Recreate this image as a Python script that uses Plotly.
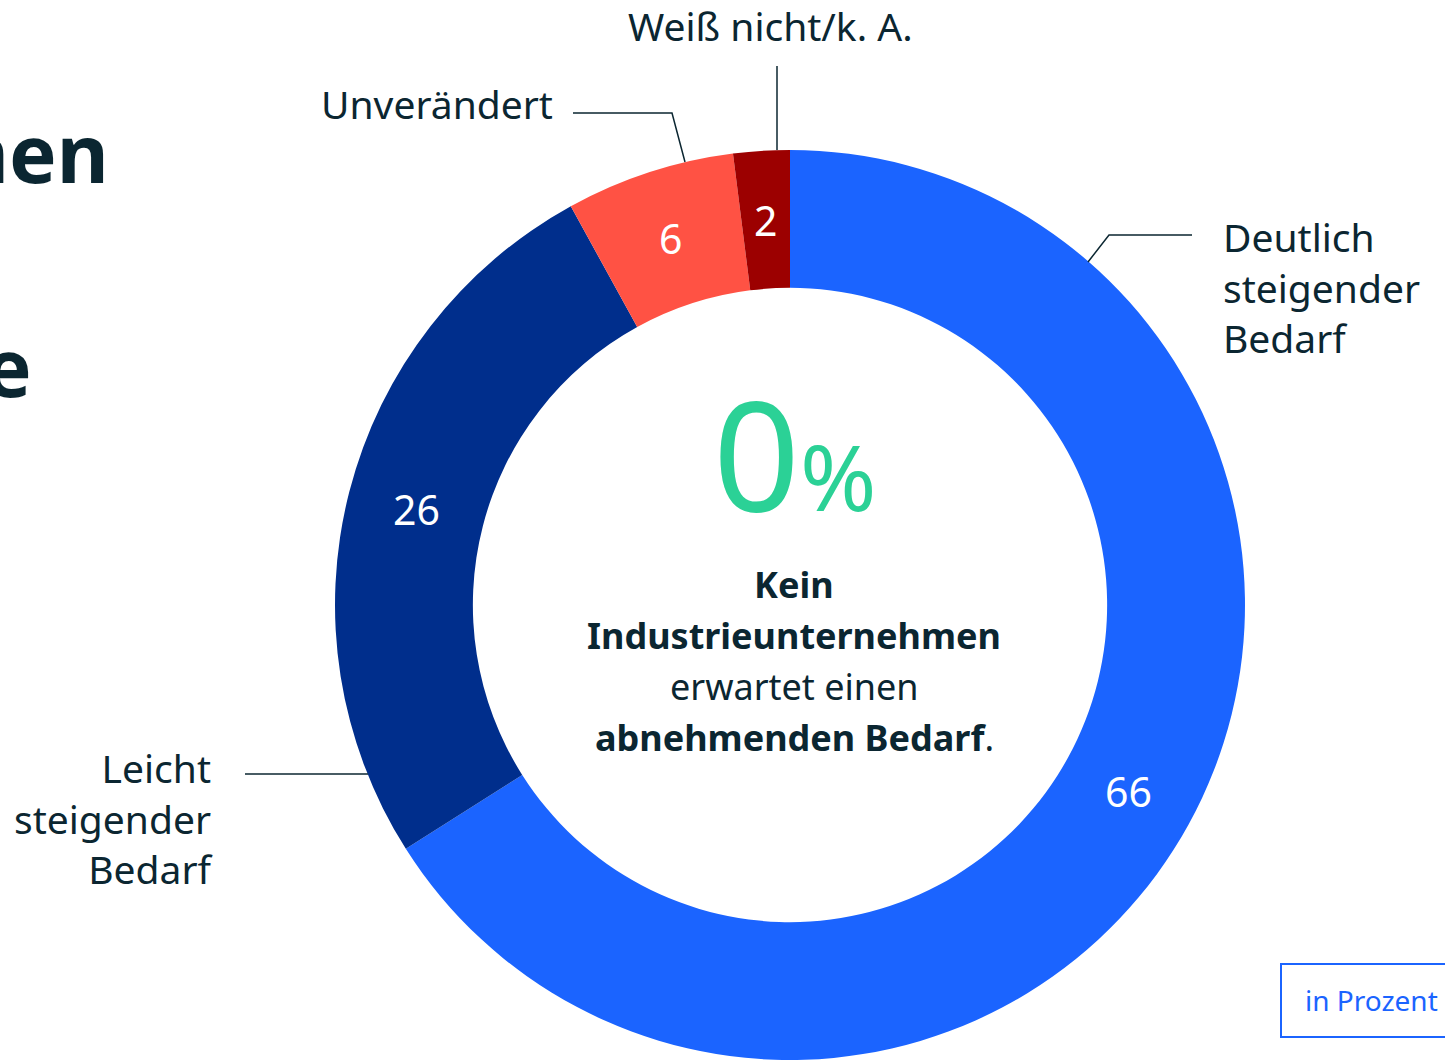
import numpy as np
import plotly.graph_objects as go

# ---- data ----
categories = ["Deutlich steigender Bedarf", "Leicht steigender Bedarf", "Unverändert", "Weiß nicht/k. A."]
values = [66, 26, 6, 2]
colors = ["#1B64FF", "#002E8C", "#FF5244", "#9C0000"]
center_value = "0"
center_lines = ["<b>Kein</b>", "<b>Industrieunternehmen</b>", "erwartet einen", "<b>abnehmenden Bedarf</b>."]
unit_label = "in Prozent"

W, H = 1445, 1060
FONT = "Noto Sans"
TXT = "#0B2631"

# pie geometry (pixels)
CX, CY, R_OUT, HOLE = 790, 605, 455, 0.697

def px(x):
    return x / W

def py(y):
    return 1 - y / H

fig = go.Figure()
fig.add_trace(go.Pie(
    labels=categories,
    values=values,
    marker=dict(colors=colors, line=dict(width=0)),
    hole=HOLE,
    sort=False,
    direction="clockwise",
    rotation=0,
    textinfo="none",
    domain=dict(x=[px(CX - R_OUT), px(CX + R_OUT)], y=[0, (2 * R_OUT) / H]),
    showlegend=False,
    hoverinfo="label+value",
))

ann = []
def add(text, x, y, size, xanchor="center", yanchor="middle", color=TXT, align="left"):
    ann.append(dict(text=text, x=px(x), y=py(y), xref="paper", yref="paper",
                    xanchor=xanchor, yanchor=yanchor, showarrow=False, align=align,
                    borderpad=0,
                    font=dict(family=FONT, size=size, color=color)))

# value labels at the middle of each ring segment
vals = np.array(values, dtype=float)
cum = np.cumsum(vals) - vals / 2
theta = np.deg2rad(cum / vals.sum() * 360)
r_mid = R_OUT * (1 + HOLE) / 2
for v, t in zip(values, theta):
    add(str(v), CX + r_mid * np.sin(t), CY - r_mid * np.cos(t), 41, color="white")

# outside labels
add("Deutlich<br>steigender<br>Bedarf", 1222, 287, 39, xanchor="left", align="left")
add("Leicht<br>steigender<br>Bedarf", 215, 818, 39, xanchor="right", align="right")
add("Unverändert", 554, 103, 39, xanchor="right")
add("Weiß nicht/k. A.", 771, 26, 39, xanchor="center")

# center
add(center_value + "<span style='font-size:92px'>%</span>", 794, 452, 152, color="#2BD196")
for i, t in enumerate(center_lines):
    add(t, 794, 584 + i * 51.3, 36, align="center")

# heading fragments (cut off at the left edge, as in the reference)
add("<b>nen</b>", 110, 152, 80, xanchor="right")
add("<b>e</b>", 33, 365, 80, xanchor="right")

# unit box
add(unit_label, 1304, 1000, 28, xanchor="left", color="#1B64FF")

shapes = []
def line(pts):
    path = "M " + " L ".join(f"{px(x)},{py(y)}" for x, y in pts)
    shapes.append(dict(type="path", path=path, xref="paper", yref="paper",
                       line=dict(color=TXT, width=1.5)))

line([(1088, 262), (1109, 235), (1192, 235)])
line([(245, 774), (368, 774)])
line([(573, 113), (672, 113), (685, 162)])
line([(777, 66), (777, 150)])

shapes.append(dict(type="rect", xref="paper", yref="paper",
                   x0=px(1281), x1=px(1470), y0=py(1037), y1=py(964),
                   line=dict(color="#1B64FF", width=2), fillcolor="rgba(0,0,0,0)"))

fig.update_layout(
    width=W, height=H, autosize=False,
    margin=dict(l=0, r=0, t=0, b=0),
    paper_bgcolor="white", plot_bgcolor="white",
    annotations=ann, shapes=shapes,
    font=dict(family=FONT, color=TXT),
)

fig.write_html("out.html", config={"displayModeBar": False},
               post_script="document.body.style.margin='0';document.body.style.overflow='hidden';")
